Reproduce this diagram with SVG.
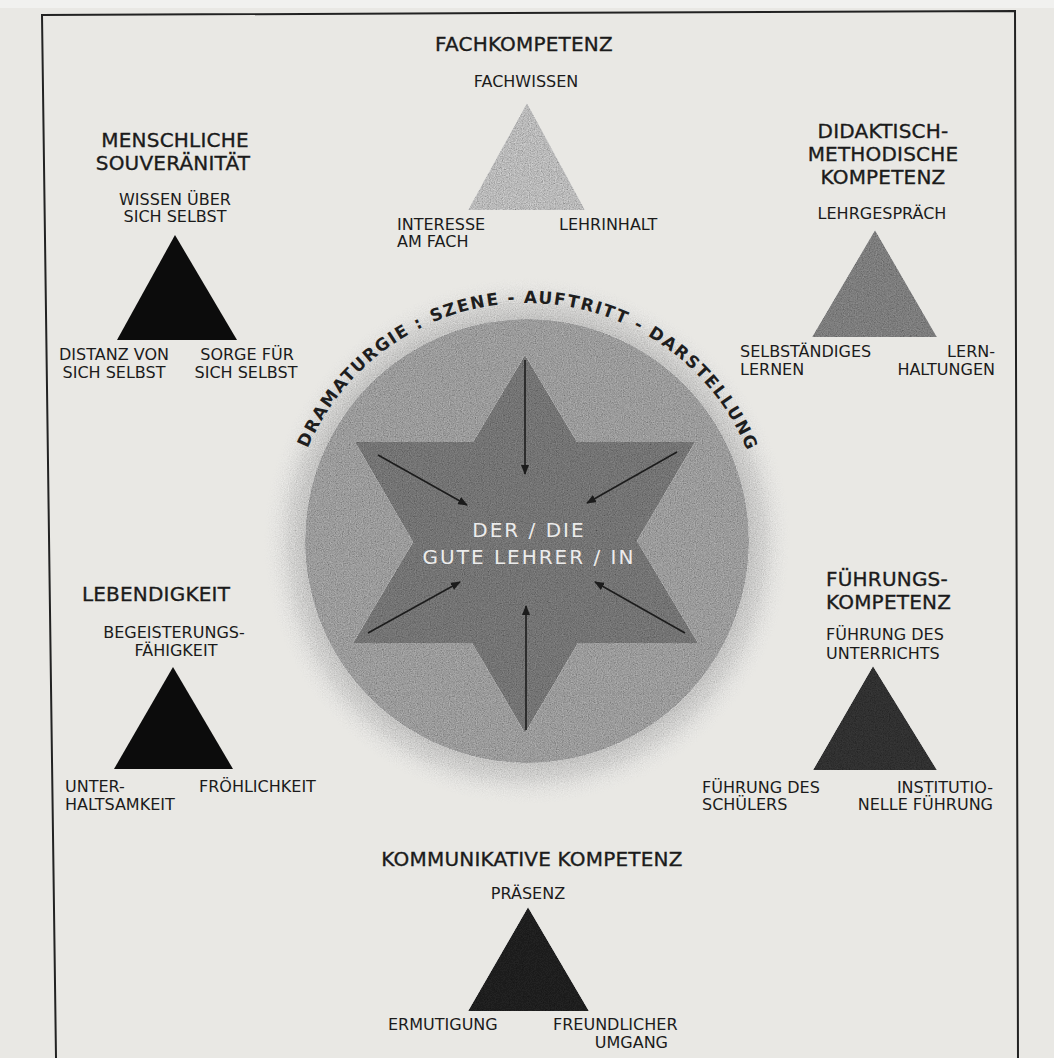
<svg xmlns="http://www.w3.org/2000/svg" width="1054" height="1058" viewBox="0 0 1054 1058">
<style>
  text { font-family: "DejaVu Sans", Verdana, sans-serif; fill: #1b1b1b; }
  .title { font-size: 20px; letter-spacing: 0.2px; stroke: #1b1b1b; stroke-width: 0.35px; }
  .lbl { font-size: 16px; }
  .mid { text-anchor: middle; }
  .end { text-anchor: end; }
  .center { font-size: 20px; fill: #ececec; letter-spacing: 2px; text-anchor: middle; }
  .arc { font-size: 17px; font-weight: bold; letter-spacing: 1.6px; fill: #1e1e1e; }
  .tri { filter: url(#grain); }
  .arrow { stroke: #1c1c1c; stroke-width: 1.6; fill: none; marker-end: url(#head); }
</style>
<defs>
  <filter id="grain" x="-5%" y="-5%" width="110%" height="110%">
    <feTurbulence type="fractalNoise" baseFrequency="0.85" numOctaves="2" seed="7" result="noise"/>
    <feColorMatrix in="noise" type="matrix" values="0.6 0.6 0 0 0.15  0.6 0.6 0 0 0.15  0.6 0.6 0 0 0.15  0 0 0 0 1" result="gnoise"/>
    <feBlend in="SourceGraphic" in2="gnoise" mode="multiply" result="blend"/>
    <feComposite in="blend" in2="SourceGraphic" operator="in"/>
  </filter>
  <radialGradient id="halo" cx="527" cy="541" r="264" gradientUnits="userSpaceOnUse">
    <stop offset="0.82" stop-color="#a8a8a8" stop-opacity="0.75"/>
    <stop offset="0.9" stop-color="#b4b4b4" stop-opacity="0.55"/>
    <stop offset="1" stop-color="#c8c8c8" stop-opacity="0"/>
  </radialGradient>
  <marker id="head" viewBox="0 0 10 8" refX="9" refY="4" markerWidth="10" markerHeight="8" markerUnits="userSpaceOnUse" orient="auto">
    <path d="M0,0 L10,4 L0,8 Z" fill="#1c1c1c"/>
  </marker>
  <path id="arcpath" d="M 289 541 A 238 238 0 0 1 765 541"/>
</defs>

<rect x="0" y="0" width="1054" height="1058" fill="#e9e8e4"/>
<rect x="0" y="0" width="1054" height="8" fill="#f1f1ef"/>

<g id="frame" fill="none" stroke="#222" stroke-width="2">
  <path d="M56,1058 L42,15 L1015,11 L1018,1058"/>
</g>

<g id="center-figure">
  <circle cx="527" cy="541" r="264" fill="url(#halo)" class="tri"/>
  <circle cx="527" cy="541" r="222" fill="#b0b0b0" class="tri"/>
  <line x1="382" y1="693" x2="680" y2="693" stroke="#8c8c8c" stroke-width="1" stroke-dasharray="3 2" opacity="0.6"/>
  <polygon points="525,355 577,442 695,442 637,541 698,643 578,643 525,733 472,643 353,643 413,542 355,442 473,442" fill="#848484" class="tri"/>
  <text class="arc"><textPath href="#arcpath" startOffset="95">DRAMATURGIE :</textPath></text>
  <text class="arc"><textPath href="#arcpath" startOffset="276.8">SZENE -</textPath></text>
  <text class="arc"><textPath href="#arcpath" startOffset="370.5">AUFTRITT -</textPath></text>
  <text class="arc"><textPath href="#arcpath" startOffset="499.8">DARSTE</textPath></text>
  <text class="arc"><textPath href="#arcpath" startOffset="585.2">LLUNG</textPath></text>
  <text class="center" x="529" y="537">DER / DIE</text>
  <text class="center" x="529" y="564">GUTE LEHRER / IN</text>
</g>

<g id="connectors">
  <line class="arrow" x1="525" y1="360" x2="525" y2="474"/>
  <line class="arrow" x1="526" y1="730" x2="526" y2="606"/>
  <line class="arrow" x1="378" y1="455" x2="467" y2="505"/>
  <line class="arrow" x1="677" y1="452" x2="587" y2="503"/>
  <line class="arrow" x1="368" y1="633" x2="460" y2="582"/>
  <line class="arrow" x1="685" y1="633" x2="595" y2="582"/>
</g>

<g id="fachkompetenz">
  <text class="title mid" x="524" y="51">FACHKOMPETENZ</text>
  <text class="lbl mid" x="526" y="87">FACHWISSEN</text>
  <polygon class="tri" points="527,103 468,210 585,210" fill="#d2d2d2"/>
  <text class="lbl" x="397" y="230">INTERESSE</text>
  <text class="lbl" x="397" y="247">AM FACH</text>
  <text class="lbl" x="559" y="230">LEHRINHALT</text>
</g>

<g id="menschliche-souveraenitaet">
  <text class="title mid" x="175" y="147">MENSCHLICHE</text>
  <text class="title mid" x="173" y="170">SOUVERÄNITÄT</text>
  <text class="lbl mid" x="175" y="205">WISSEN ÜBER</text>
  <text class="lbl mid" x="175" y="222">SICH SELBST</text>
  <polygon points="175,235 117,340 237,340" fill="#0c0c0c"/>
  <text class="lbl mid" x="114" y="360">DISTANZ VON</text>
  <text class="lbl mid" x="114" y="378">SICH SELBST</text>
  <text class="lbl mid" x="247" y="360">SORGE FÜR</text>
  <text class="lbl mid" x="246" y="378">SICH SELBST</text>
</g>

<g id="didaktisch-methodische-kompetenz">
  <text class="title mid" x="883" y="138">DIDAKTISCH-</text>
  <text class="title mid" x="883" y="161">METHODISCHE</text>
  <text class="title mid" x="883" y="184">KOMPETENZ</text>
  <text class="lbl mid" x="882" y="219">LEHRGESPRÄCH</text>
  <polygon class="tri" points="875,230 812,337 937,337" fill="#8e8e8e"/>
  <text class="lbl" x="740" y="357">SELBSTÄNDIGES</text>
  <text class="lbl" x="740" y="375">LERNEN</text>
  <text class="lbl end" x="995" y="357">LERN-</text>
  <text class="lbl end" x="995" y="375">HALTUNGEN</text>
</g>

<g id="lebendigkeit">
  <text class="title mid" x="156" y="601">LEBENDIGKEIT</text>
  <text class="lbl mid" x="174" y="638">BEGEISTERUNGS-</text>
  <text class="lbl mid" x="176" y="656">FÄHIGKEIT</text>
  <polygon points="173,667 114,769 233,769" fill="#0c0c0c"/>
  <text class="lbl" x="65" y="792">UNTER-</text>
  <text class="lbl" x="65" y="810">HALTSAMKEIT</text>
  <text class="lbl" x="199" y="792">FRÖHLICHKEIT</text>
</g>

<g id="fuehrungskompetenz">
  <text class="title" x="826" y="586">FÜHRUNGS-</text>
  <text class="title" x="826" y="609">KOMPETENZ</text>
  <text class="lbl" x="826" y="640">FÜHRUNG DES</text>
  <text class="lbl" x="826" y="659">UNTERRICHTS</text>
  <polygon class="tri" points="873,666 813,770 937,770" fill="#383838"/>
  <text class="lbl" x="702" y="793">FÜHRUNG DES</text>
  <text class="lbl" x="702" y="810">SCHÜLERS</text>
  <text class="lbl end" x="993" y="793">INSTITUTIO-</text>
  <text class="lbl end" x="993" y="810">NELLE FÜHRUNG</text>
</g>

<g id="kommunikative-kompetenz">
  <text class="title mid" x="532" y="866">KOMMUNIKATIVE KOMPETENZ</text>
  <text class="lbl mid" x="528" y="899">PRÄSENZ</text>
  <polygon class="tri" points="528,907 468,1011 589,1011" fill="#242424"/>
  <text class="lbl" x="388" y="1030">ERMUTIGUNG</text>
  <text class="lbl" x="553" y="1030">FREUNDLICHER</text>
  <text class="lbl end" x="668" y="1048">UMGANG</text>
</g>
</svg>
